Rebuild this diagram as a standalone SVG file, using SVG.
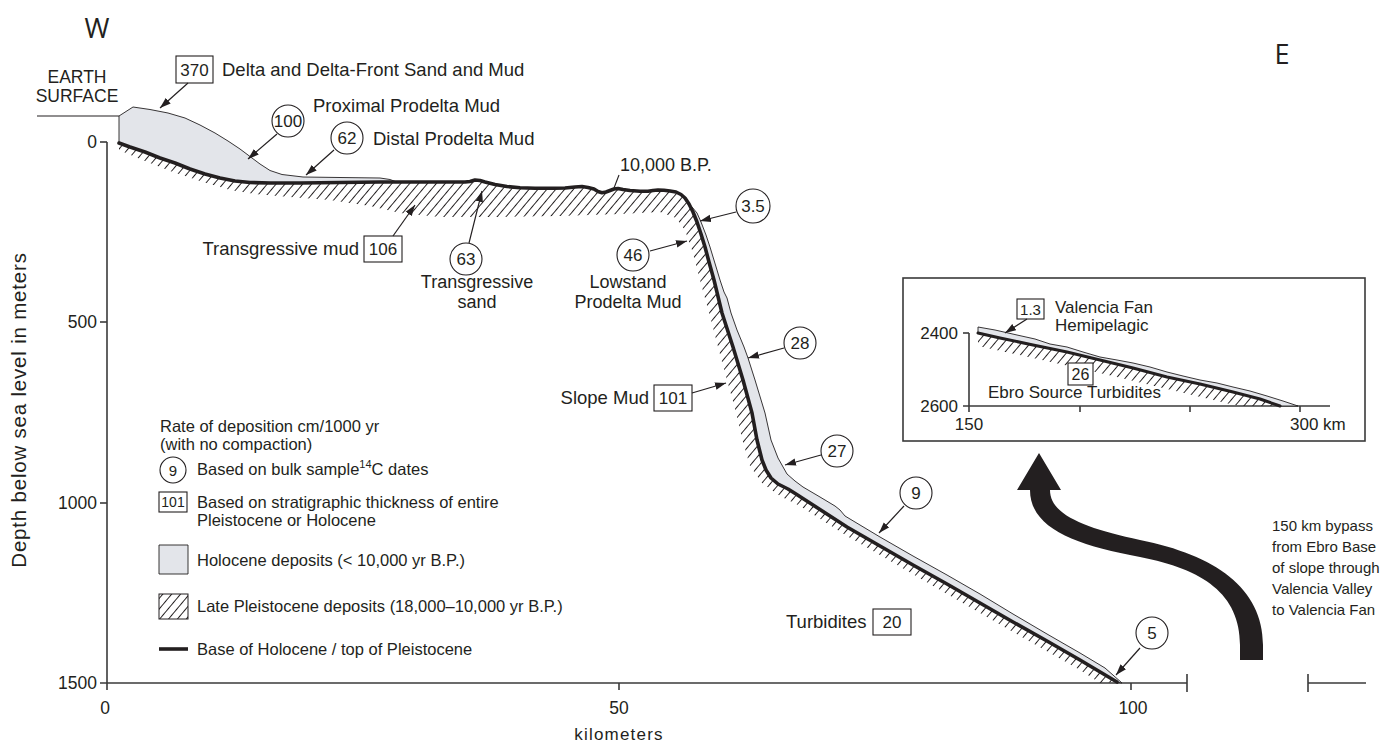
<svg xmlns="http://www.w3.org/2000/svg" width="1386" height="746" viewBox="0 0 1386 746">
<defs>
<style>
text{font-family:"Liberation Sans",Arial,Helvetica,sans-serif;fill:#231f20}
.lbl{font-size:18.5px}
.two{font-size:18px;text-anchor:middle}
.leg{font-size:16.5px}
.num{font-size:17px;text-anchor:middle}
.ax{font-size:17.5px}
.ins{font-size:17px}
.dir{font-family:"Open Sans","Noto Sans",sans-serif;font-size:27px;text-anchor:middle}
.axis{fill:none;stroke:#3a3a3a;stroke-width:1.6}
.thin{fill:none;stroke:#231f20;stroke-width:1.1}
.base{fill:none;stroke:#231f20;stroke-width:3.6;stroke-linejoin:round;stroke-linecap:round}
.holo{fill:#e3e5ea;stroke:#231f20;stroke-width:0.9;stroke-linejoin:round}
.hatch{fill:url(#hatch);stroke:none}
.tag{fill:#fff;stroke:#231f20;stroke-width:1.1}
.lead{fill:none;stroke:#231f20;stroke-width:1.2;marker-end:url(#ah)}
</style>
<pattern id="hatch" patternUnits="userSpaceOnUse" width="6.8" height="12" patternTransform="rotate(40)">
<line x1="3.4" y1="0" x2="3.4" y2="12" stroke="#231f20" stroke-width="1"/>
</pattern>
<marker id="ah" markerUnits="userSpaceOnUse" markerWidth="12" markerHeight="9" refX="11" refY="4.5" orient="auto">
<path d="M0,0.8 L11,4.5 L0,8.2 Z" fill="#231f20"/>
</marker>
</defs>

<!-- compass letters -->
<text class="dir" x="97" y="38">W</text>
<text class="dir" x="1282" y="64">E</text>

<!-- depth axis -->
<g id="depth-axis">
<line class="axis" x1="107" y1="142" x2="107" y2="683"/>
<line class="axis" x1="100" y1="142" x2="107" y2="142"/>
<line class="axis" x1="100" y1="322" x2="107" y2="322"/>
<line class="axis" x1="100" y1="503" x2="107" y2="503"/>
<g class="ax" text-anchor="end">
<text x="97" y="148">0</text>
<text x="97" y="328">500</text>
<text x="97" y="509">1000</text>
<text x="97" y="689">1500</text>
</g>
<text transform="translate(26,410) rotate(-90)" text-anchor="middle" style="font-size:20.5px;letter-spacing:0.8px">Depth below sea level in meters</text>
</g>

<!-- distance axis -->
<g id="distance-axis">
<line class="axis" x1="100" y1="683" x2="1187" y2="683"/>
<line class="axis" x1="107" y1="683" x2="107" y2="690"/>
<line class="axis" x1="619" y1="683" x2="619" y2="690"/>
<line class="axis" x1="1131" y1="683" x2="1131" y2="690"/>
<line class="axis" x1="1187" y1="674" x2="1187" y2="692"/>
<line class="axis" x1="1308" y1="674" x2="1308" y2="692"/>
<line class="axis" x1="1308" y1="683" x2="1366" y2="683"/>
<g class="ax" text-anchor="middle">
<text x="105" y="714">0</text>
<text x="619" y="714">50</text>
<text x="1133" y="714">100</text>
</g>
<text x="619" y="740" text-anchor="middle" style="font-size:17px;letter-spacing:1.2px">kilometers</text>
</g>

<!-- earth surface -->
<g id="earth-surface">
<line class="thin" x1="37" y1="116" x2="119" y2="116"/>
<text x="77" y="83" text-anchor="middle" style="font-size:17.5px">EARTH</text>
<text x="77" y="102" text-anchor="middle" style="font-size:17.5px">SURFACE</text>
</g>

<!-- Late Pleistocene deposits (hatched) -->
<g id="pleistocene">
<polygon class="hatch" points="119,143 130,147 145,152 160,158 175,163 190,169 205,174 220,178 235,181 250,182.5 270,183 300,183 380,182 440,182 465,182 470,181.5 475,180 480,180.5 485,182 495,184.5 507,186.5 520,187.8 535,188.3 555,188.3 565,188 575,187 582,186.5 588,187.5 594,189 598,191.5 602,192.7 606,192 610,190.5 614,189 618,188.5 623,189.5 630,190.5 640,191.3 648,191.3 653,190.5 658,190 664,190.3 670,191 676,192 681,194.5 685,198 689,204 693,212 697,222 701,234 705,247 709,262 714,280 722,313 733,347 743,380 752,413 757,440 762,460 766,470 771,478 778,484 788,489 796,494 813,505 847,527 880,546 913,565 947,584 980,603 1013,622 1047,641 1080,660 1117,682 1100,683 1080,670 1013,632 947,594 880,555 847,536 800,506 780,496 762,483 750,466 743,442 734,405 722,362 711,320 700,280 692,250 685,230 676,218 660,212 620,214 560,216 500,217 440,217 400,213 370,206 330,200 290,197 255,194 230,190 200,181 170,171 140,159 119,150"/>
</g>

<!-- Holocene deposits (grey) -->
<g id="holocene-delta">
<polygon class="holo" points="119,116 133,107 150,109.5 168,113 185,118 200,125 215,133 228,141 240,149 250,156.5 260,164 270,170.5 282,174.5 303,177 340,177.5 380,178 390,179.5 398,182.5 380,182 300,183 270,183 250,182.5 235,181 220,178 205,174 190,169 175,163 160,158 145,152 130,147 119,143"/>
</g>
<g id="holocene-slope">
<polygon class="holo" points="686,202 692,207 697,213 701,222 706,235 710,247 717,270 720,280 724,292 727,298 731,313 737,330 744,347 748,358 755,380 765,413 771,440 778,458 787,474 795,481 803,487 820,497 835,506 840,510 845,516 850,519 880,537 913,556 947,575 980,594 1013,614 1047,634 1080,653 1105,668 1122,683 1117,682 1080,660 1047,641 1013,622 980,603 947,584 913,565 880,546 847,527 813,505 796,494 788,489 778,484 771,478 766,470 762,460 757,440 752,413 743,380 733,347 722,313 714,280 709,262 705,247 701,234 697,222 693,212 689,204"/>
</g>

<!-- base of Holocene / top of Pleistocene -->
<g id="base-surface">
<polyline class="base" points="119,143 130,147 145,152 160,158 175,163 190,169 205,174 220,178 235,181 250,182.5 270,183 300,183 380,182 440,182 465,182 470,181.5 475,180 480,180.5 485,182 495,184.5 507,186.5 520,187.8 535,188.3 555,188.3 565,188 575,187 582,186.5 588,187.5 594,189 598,191.5 602,192.7 606,192 610,190.5 614,189 618,188.5 623,189.5 630,190.5 640,191.3 648,191.3 653,190.5 658,190 664,190.3 670,191 676,192 681,194.5 685,198 689,204 693,212 697,222 701,234 705,247 709,262 714,280 722,313 733,347 743,380 752,413 757,440 762,460 766,470 771,478 778,484 788,489 796,494 813,505 847,527 880,546 913,565 947,584 980,603 1013,622 1047,641 1080,660 1117,682"/>
<text x="620" y="171" style="font-size:18px">10,000 B.P.</text>
</g>

<!-- rate labels -->
<g id="r370"><rect class="tag" x="176" y="56" width="37" height="27"/><text class="num" x="194.5" y="75.5">370</text>
<text class="lbl" x="222" y="76">Delta and Delta-Front Sand and Mud</text></g>
<g id="r100"><circle class="tag" cx="288" cy="121" r="16"/><text class="num" x="288" y="127">100</text>
<text class="lbl" x="313" y="112">Proximal Prodelta Mud</text></g>
<g id="r62"><circle class="tag" cx="347" cy="138" r="16"/><text class="num" x="347" y="144">62</text>
<text class="lbl" x="373" y="145">Distal Prodelta Mud</text></g>
<g id="r106"><rect class="tag" x="364" y="236" width="38" height="26"/><text class="num" x="383" y="255">106</text>
<text class="lbl" x="359" y="255" text-anchor="end">Transgressive mud</text></g>
<g id="r63"><circle class="tag" cx="466" cy="259" r="16"/><text class="num" x="466" y="265">63</text>
<text class="two" x="477" y="288">Transgressive</text>
<text class="two" x="477" y="308">sand</text></g>
<g id="r46"><circle class="tag" cx="633" cy="255" r="16"/><text class="num" x="633" y="261">46</text>
<text class="two" x="628" y="288">Lowstand</text>
<text class="two" x="628" y="308">Prodelta Mud</text></g>
<g id="r3-5"><circle class="tag" cx="753" cy="206" r="17"/><text class="num" x="753" y="212">3.5</text></g>
<g id="r28"><circle class="tag" cx="800" cy="343" r="16"/><text class="num" x="800" y="349">28</text></g>
<g id="r101"><rect class="tag" x="654" y="385" width="38" height="26"/><text class="num" x="673" y="404">101</text>
<text class="lbl" x="649" y="404" text-anchor="end">Slope Mud</text></g>
<g id="r27"><circle class="tag" cx="837" cy="451" r="16"/><text class="num" x="837" y="457">27</text></g>
<g id="r9"><circle class="tag" cx="916" cy="493" r="16"/><text class="num" x="916" y="499">9</text></g>
<g id="r20"><rect class="tag" x="873" y="609" width="38" height="26"/><text class="num" x="892" y="628">20</text>
<text class="lbl" x="786" y="628">Turbidites</text></g>
<g id="r5"><circle class="tag" cx="1152" cy="633" r="16"/><text class="num" x="1152" y="639">5</text></g>

<!-- legend -->
<g id="legend" class="leg">
<text x="160" y="432">Rate of deposition cm/1000 yr</text>
<text x="160" y="450">(with no compaction)</text>
<circle class="tag" cx="173" cy="470" r="13"/><text x="173" y="475.5" text-anchor="middle" style="font-size:15px">9</text>
<text x="197" y="475">Based on bulk sample<tspan dy="-7" style="font-size:11px">14</tspan><tspan dy="7">C dates</tspan></text>
<rect class="tag" x="159" y="492" width="28" height="20"/><text x="173" y="507" text-anchor="middle" style="font-size:14px">101</text>
<text x="197" y="508">Based on stratigraphic thickness of entire</text>
<text x="197" y="526">Pleistocene or Holocene</text>
<rect class="holo" x="159" y="545" width="29" height="29"/>
<text x="197" y="566">Holocene deposits (&lt; 10,000 yr B.P.)</text>
<rect x="159" y="594" width="29" height="25" fill="url(#hatch)" stroke="#231f20" stroke-width="1"/>
<text x="197" y="612">Late Pleistocene deposits (18,000–10,000 yr B.P.)</text>
<line x1="159" y1="649" x2="188" y2="649" stroke="#231f20" stroke-width="3.6"/>
<text x="197" y="655">Base of Holocene / top of Pleistocene</text>
</g>

<!-- Valencia Fan inset -->
<g id="inset">
<rect x="903" y="278" width="462" height="163" fill="#fff" stroke="#3a3a3a" stroke-width="1.6"/>
<line class="axis" x1="969" y1="333" x2="969" y2="406"/>
<line class="axis" x1="963" y1="333" x2="969" y2="333"/>
<line class="axis" x1="963" y1="406" x2="1330" y2="406"/>
<line class="axis" x1="969" y1="406" x2="969" y2="412"/>
<line class="axis" x1="1080" y1="406" x2="1080" y2="412"/>
<line class="axis" x1="1190" y1="406" x2="1190" y2="412"/>
<line class="axis" x1="1300" y1="406" x2="1300" y2="412"/>
<text class="ins" x="958" y="339" text-anchor="end">2400</text>
<text class="ins" x="958" y="412" text-anchor="end">2600</text>
<text class="ins" x="969" y="430" text-anchor="middle">150</text>
<text class="ins" x="1290" y="430">300 km</text>
<polygon class="hatch" points="978,333 1000,338 1033,345 1067,352 1100,360 1133,368 1167,377 1200,384 1233,392 1260,399 1280,406 1240,406 1230,404 1167,389 1100,373 1033,358 978,346"/>
<polygon class="holo" points="978,327 995,330 1017,335 1035,339 1050,344 1067,347 1083,352 1100,357 1117,360 1133,363 1150,367 1167,372 1183,376 1200,380 1217,383 1233,387 1250,391 1267,396 1283,401 1298,406 1280,406 1260,399 1233,392 1200,384 1167,377 1133,368 1100,360 1067,352 1033,345 1000,338 978,333"/>
<polyline class="base" style="stroke-width:3" points="978,333 1000,338 1033,345 1067,352 1100,360 1133,368 1167,377 1200,384 1233,392 1260,399 1280,406"/>
<text class="ins" x="988" y="398">Ebro Source Turbidites</text>
<g id="r26"><rect class="tag" x="1068" y="363" width="25" height="22"/><text x="1080.5" y="380" text-anchor="middle" style="font-size:16px">26</text></g>
<g id="r1-3"><rect class="tag" x="1017" y="299" width="27" height="20"/><text x="1030.5" y="315" text-anchor="middle" style="font-size:15px">1.3</text>
<text class="ins" x="1055" y="313">Valencia Fan</text>
<text class="ins" x="1055" y="331">Hemipelagic</text></g>
</g>

<!-- bypass arrow and note -->
<g id="bypass">
<path d="M1240,660 L1240,645 C1240,594 1203,569 1140,557 C1075,545 1030,528 1030,490 L1017,490 L1039,453 L1061,490 L1050,490 C1050,515 1085,528 1140,540 C1215,555 1263,588 1263,645 L1263,660 Z" fill="#231f20"/>
<g style="font-size:15px">
<text x="1272" y="531">150 km bypass</text>
<text x="1272" y="552">from Ebro Base</text>
<text x="1272" y="573">of slope through</text>
<text x="1272" y="594">Valencia Valley</text>
<text x="1272" y="615">to Valencia Fan</text>
</g>
</g>

<!-- leader arrows -->
<g id="connectors">
<line class="lead" x1="188" y1="83" x2="160" y2="108"/>
<line class="lead" x1="277" y1="134" x2="248" y2="159"/>
<line class="lead" x1="334" y1="150" x2="306" y2="175"/>
<line class="lead" x1="393" y1="236" x2="415" y2="205"/>
<line class="lead" x1="469" y1="243" x2="482" y2="191"/>
<line class="lead" x1="650" y1="251" x2="687" y2="241"/>
<line class="lead" x1="736" y1="212" x2="700" y2="221"/>
<line class="lead" x1="784" y1="348" x2="748" y2="358"/>
<line class="lead" x1="692" y1="393" x2="726" y2="383"/>
<line class="lead" x1="821" y1="455" x2="785" y2="465"/>
<line class="lead" x1="904" y1="506" x2="879" y2="533"/>
<line class="lead" x1="1140" y1="648" x2="1116" y2="675"/>
<line class="lead" x1="1027" y1="319" x2="1005" y2="333"/>
<line class="thin" x1="619" y1="175" x2="614" y2="188"/>
</g>
</svg>
